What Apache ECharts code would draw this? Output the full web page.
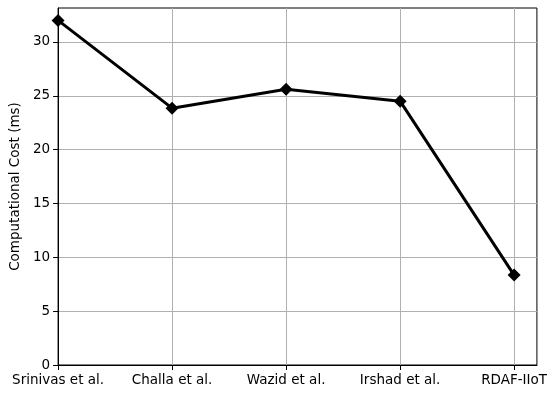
<!DOCTYPE html>
<html>
<head>
<meta charset="utf-8">
<script src="https://cdn.jsdelivr.net/npm/echarts@6/dist/echarts.min.js"></script>
<style>
  html, body { margin: 0; padding: 0; background: #fff; }
  #chart { width: 550px; height: 395px; }
</style>
</head>
<body>
<div id="chart"></div>
<script>
const methods = ['Srinivas et al.', 'Challa et al.', 'Wazid et al.', 'Irshad et al.', 'RDAF-IIoT']
const costMs = [32.0, 23.85, 25.6, 24.5, 8.35]
const yTicks = [0, 5, 10, 15, 20, 25, 30]
const xTicks = [0, 1, 2, 3, 4]

const font = 'DejaVu Sans'
const chart = echarts.init(document.getElementById('chart'))

chart.setOption({
  animation: false,
  grid: {
    left: 57, right: 13, top: 8, bottom: 30,
    show: true, borderColor: '#000', borderWidth: 1
  },
  xAxis: {
    type: 'value',
    min: 0,
    max: 4.2,
    interval: 1,
    axisLine: { show: true, lineStyle: { color: '#000', width: 1 } },
    axisTick: { show: true, length: 5, customValues: xTicks, lineStyle: { color: '#000' } },
    axisLabel: {
      color: '#000', fontFamily: font, fontSize: 13.5, margin: 8,
      customValues: xTicks,
      formatter: v => methods[Math.round(v)] || ''
    },
    splitLine: { show: true, lineStyle: { color: '#b0b0b0', width: 1 } }
  },
  yAxis: {
    type: 'value',
    min: 0,
    max: 33.15,
    interval: 5,
    name: 'Computational Cost (ms)',
    nameLocation: 'middle',
    nameGap: 36,
    nameTextStyle: { color: '#000', fontFamily: font, fontSize: 13.5 },
    axisLine: { show: true, lineStyle: { color: '#000', width: 1 } },
    axisTick: { show: true, length: 5, customValues: yTicks, lineStyle: { color: '#000' } },
    axisLabel: {
      color: '#000', fontFamily: font, fontSize: 13.5, margin: 8,
      customValues: yTicks,
      formatter: v => String(v)
    },
    splitLine: { show: true, lineStyle: { color: '#b0b0b0', width: 1 } }
  },
  series: [
    {
      type: 'line',
      data: costMs.map((v, i) => [i, v]),
      symbol: 'diamond',
      symbolSize: 13,
      lineStyle: { color: '#000', width: 3 },
      itemStyle: { color: '#000' },
      clip: false
    }
  ]
})
</script>
</body>
</html>
